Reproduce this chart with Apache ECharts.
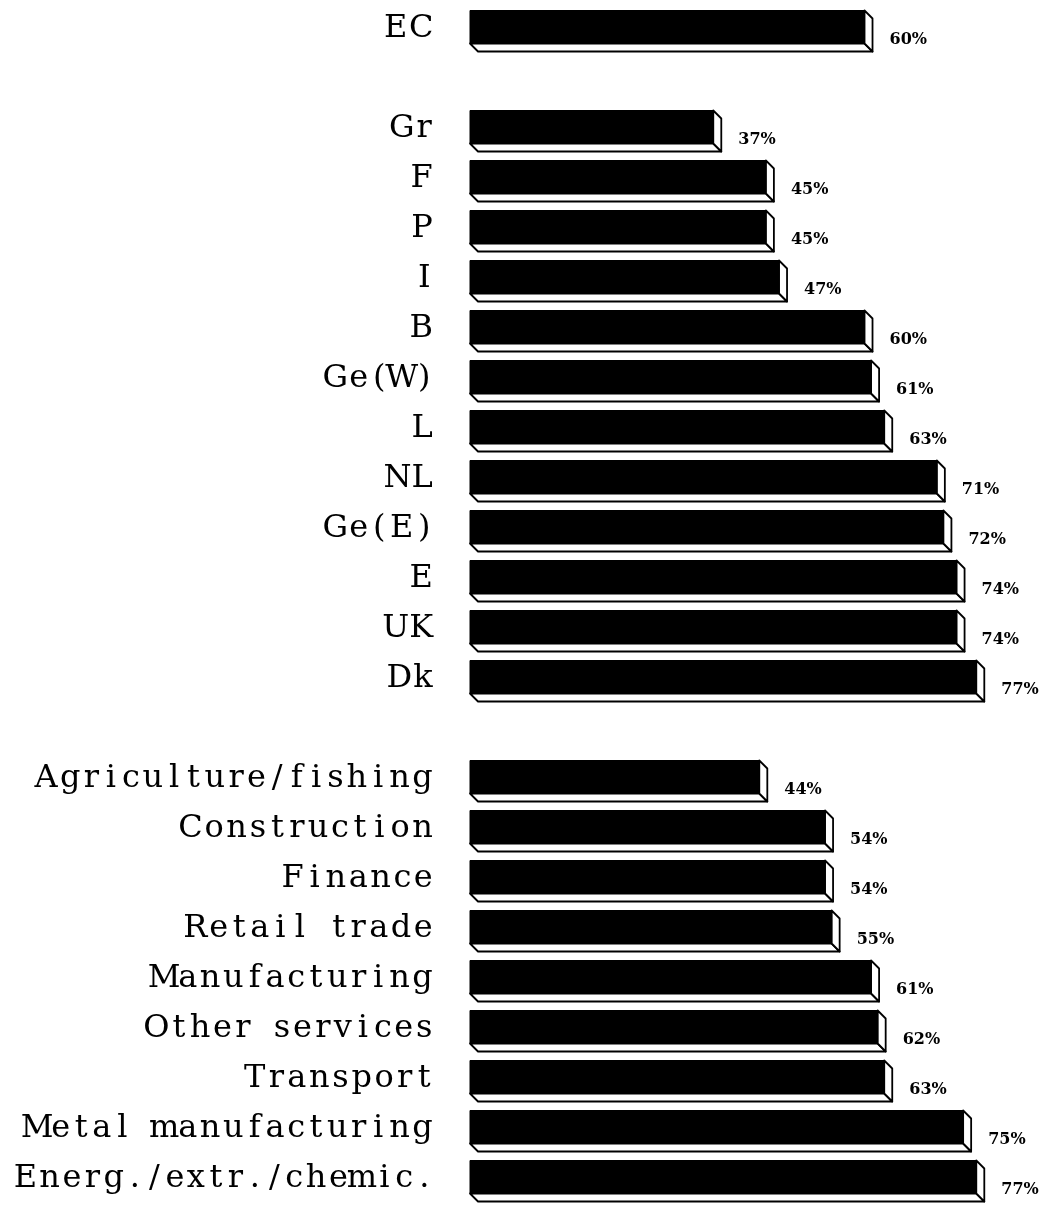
<!DOCTYPE html>
<html>
<head>
<meta charset="utf-8">
<script src="https://cdn.jsdelivr.net/npm/echarts@6/dist/echarts.min.js"></script>
<style>
  html, body { margin: 0; padding: 0; background: #fff; }
  #chart { width: 1046px; height: 1206px; }
</style>
</head>
<body>
<div id="chart"></div>
<script>
// Overall EC figure
const totalNames = ['EC'];
const totalValues = [60];

// Member states
const countryNames = ['Gr', 'F', 'P', 'I', 'B', 'Ge(W)', 'L', 'NL', 'Ge(E)', 'E', 'UK', 'Dk'];
const countryValues = [37, 45, 45, 47, 60, 61, 63, 71, 72, 74, 74, 77];

// Sectors
const sectorNames = ['Agriculture/fishing', 'Construction', 'Finance', 'Retail trade',
  'Manufacturing', 'Other services', 'Transport', 'Metal manufacturing', 'Energ./extr./chemic.'];
const sectorValues = [44, 54, 54, 55, 61, 62, 63, 75, 77];

// Rows top to bottom, with an empty row between the groups
const categories = [].concat(totalNames, [' '], countryNames, ['  '], sectorNames);
const values = [].concat(totalValues, [null], countryValues, [null], sectorValues);

const data = [];
values.forEach((v, i) => { if (v !== null) data.push([v, i]); });

// Category labels use a near fixed pitch: each character gets its own
// rich-text cell, its glyph width clamped to a narrow range plus a gap.
const LABEL_FONT = '"DejaVu Serif", serif';
const LABEL_SIZE = 32;
const TRACKING = 2.5;
const MIN_GLYPH = 17;
const MAX_GLYPH = 23;
const measureCtx = document.createElement('canvas').getContext('2d');
measureCtx.font = LABEL_SIZE + 'px ' + LABEL_FONT;

function cellWidth(ch) {
  const w = measureCtx.measureText(ch).width;
  return Math.min(Math.max(w, MIN_GLYPH), MAX_GLYPH) + TRACKING;
}

const richCells = {};
categories.join('').split('').forEach(ch => {
  const key = 'k' + ch.charCodeAt(0);
  if (richCells[key] || !ch.trim()) return;
  richCells[key] = {
    width: cellWidth(ch),
    align: 'center',
    fontFamily: LABEL_FONT,
    fontSize: LABEL_SIZE,
    color: '#000',
    padding: [0, 0, 4, 0]
  };
});
richCells.sp = {
  width: cellWidth(' '),
  fontFamily: LABEL_FONT,
  fontSize: LABEL_SIZE,
  padding: [0, 0, 4, 0]
};

function spacedLabel(s) {
  if (!s.trim()) return '';
  return s.split('').map(ch =>
    ch === ' ' ? '{sp|\u00a0}' : '{k' + ch.charCodeAt(0) + '|' + ch + '}'
  ).join('');
}

const DEPTH = 8;

const chart = echarts.init(document.getElementById('chart'), null, { renderer: 'canvas' });
chart.setOption({
  animation: false,
  backgroundColor: '#ffffff',
  grid: { left: 470, top: 6, right: 0, height: 1202, containLabel: false },
  xAxis: { type: 'value', min: 0, max: 87.6, show: false },
  yAxis: {
    type: 'category',
    data: categories,
    inverse: true,
    axisLine: { show: false },
    axisTick: { show: false },
    splitLine: { show: false },
    axisLabel: {
      margin: 36,
      formatter: spacedLabel,
      rich: richCells
    }
  },
  series: [{
    type: 'custom',
    encode: { x: 0, y: 1 },
    data: data,
    renderItem: function (params, api) {
      const v = api.value(0);
      const cat = api.value(1);
      const p0 = api.coord([0, cat]);
      const p1 = api.coord([v, cat]);
      const band = api.size([0, 1])[1];
      const h = band * 0.66;
      const x0 = p0[0], x1 = p1[0];
      const top = p0[1] - (h + DEPTH) / 2;
      const bot = top + h;
      const edge = { stroke: '#000', lineWidth: 1.8, lineJoin: 'round' };
      return {
        type: 'group',
        children: [
          {
            type: 'polygon',
            shape: { points: [[x0, bot], [x0 + DEPTH, bot + DEPTH], [x1 + DEPTH, bot + DEPTH], [x1, bot]] },
            style: Object.assign({ fill: '#fff' }, edge)
          },
          {
            type: 'polygon',
            shape: { points: [[x1, top], [x1 + DEPTH, top + DEPTH], [x1 + DEPTH, bot + DEPTH], [x1, bot]] },
            style: Object.assign({ fill: '#fff' }, edge)
          },
          {
            type: 'rect',
            shape: { x: x0, y: top, width: x1 - x0, height: h },
            style: { fill: '#000', stroke: '#000', lineWidth: 1 }
          },
          {
            type: 'text',
            x: x1 + DEPTH + 17,
            y: p0[1] + 9,
            style: {
              text: v + '%',
              fill: '#000',
              font: 'bold 16px "DejaVu Serif", serif',
              textAlign: 'left',
              textVerticalAlign: 'middle'
            }
          }
        ]
      };
    }
  }]
});
</script>
</body>
</html>
